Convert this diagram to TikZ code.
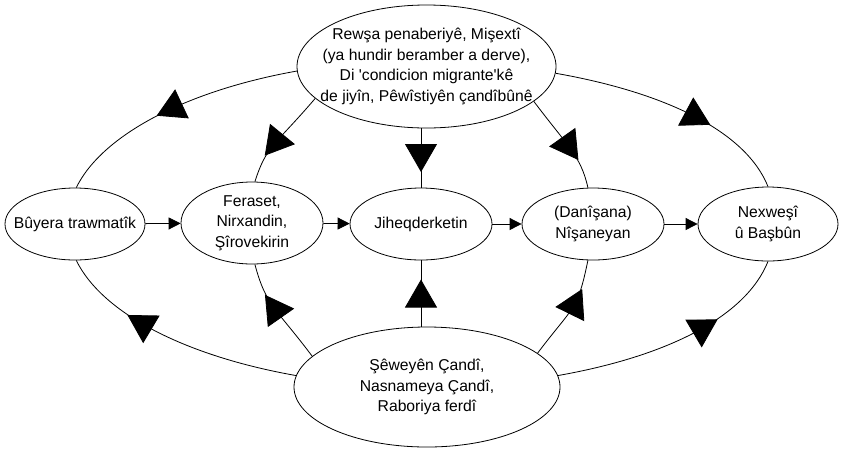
\documentclass[tikz,border=0pt]{standalone}
\usepackage{fontspec}
\setmainfont{Liberation Sans}
\usetikzlibrary{arrows.meta,shapes.geometric,decorations.markings}
\begin{document}
\begin{tikzpicture}[x=1pt,y=-1pt,
  every node/.style={font=\fontsize{15.7}{20.7}\selectfont},
  ell/.style={draw, ellipse, line width=0.8pt, inner sep=-40pt, align=center},
  link/.style={line width=0.8pt},
  flow/.style={link, -{Triangle[length=12pt,width=12pt]}},
  midarrow/.style={link, postaction={decorate}, decoration={markings,
     mark=at position #1 with {\arrow[xshift=14pt]{Triangle[length=28pt,width=32pt]}}}},
  midarrow/.default=0.5
]
\useasboundingbox (0,0) rectangle (842,448);
\node[ell, minimum width=259pt, minimum height=123pt] (top) at (426.5,66.5)
  {Rewşa penaberiyê, Mişextî\\(ya hundir beramber a derve),\\Di \textquotesingle condicion migrante\textquotesingle kê\\de jiyîn, Pêwîstiyên çandîbûnê};
\node[ell, minimum width=266pt, minimum height=120pt] (bot) at (427,387)
  {Şêweyên Çandî,\\Nasnameya Çandî,\\Raboriya ferdî};
\node[ell, minimum width=140pt, minimum height=72pt] (n1) at (75,224) {Bûyera trawmatîk};
\node[ell, minimum width=142pt, minimum height=82pt] (n2) at (252,223) {Feraset,\\Nirxandin,\\Şîrovekirin};
\node[ell, minimum width=142pt, minimum height=72pt] (n3) at (421,224) {Jiheqderketin};
\node[ell, minimum width=142pt, minimum height=72pt] (n4) at (593,224) {(Danîşana)\\Nîşaneyan};
\node[ell, minimum width=140pt, minimum height=74pt] (n5) at (768,224) {Nexweşî\\û Başbûn};

\draw[flow] (n1) -- (n2);
\draw[flow] (n2) -- (n3);
\draw[flow] (n3) -- (n4);
\draw[flow] (n4) -- (n5);

% from the top ellipse
\draw[midarrow=0.52] (top.182) .. controls +(-110.7,19.7) and +(25.8,-52.6) .. (n1.88);
\draw[midarrow=0.6] (top.196) .. controls +(-41,48) and +(12,-37) .. (n2.86);
\draw[midarrow] (n3.north |- top.south) -- (n3.north);
\draw[midarrow=0.58] (top.-18) .. controls +(33,44) and +(-7,-32) .. (n4.98);
\draw[midarrow=0.6] (top.-3) .. controls +(110.5,19.4) and +(-22,-55) .. (n5.90);

% from the bottom ellipse
\draw[midarrow=0.65] (bot.175) .. controls +(-111.3,-19.7) and +(25.9,52.8) .. (n1.-88);
\draw[midarrow=0.58] (bot.165) .. controls +(-36.6,-48.8) and +(11.3,42.2) .. (n2.-86);
\draw[midarrow] (n3.south |- bot.north) -- (n3.south);
\draw[midarrow=0.6] (bot.17) .. controls +(35.9,-47.8) and +(-10.6,51.8) .. (n4.-98);
\draw[midarrow=0.63] (bot.5) .. controls +(110.3,-19.5) and +(-22,55) .. (n5.-90);
\end{tikzpicture}
\end{document}
